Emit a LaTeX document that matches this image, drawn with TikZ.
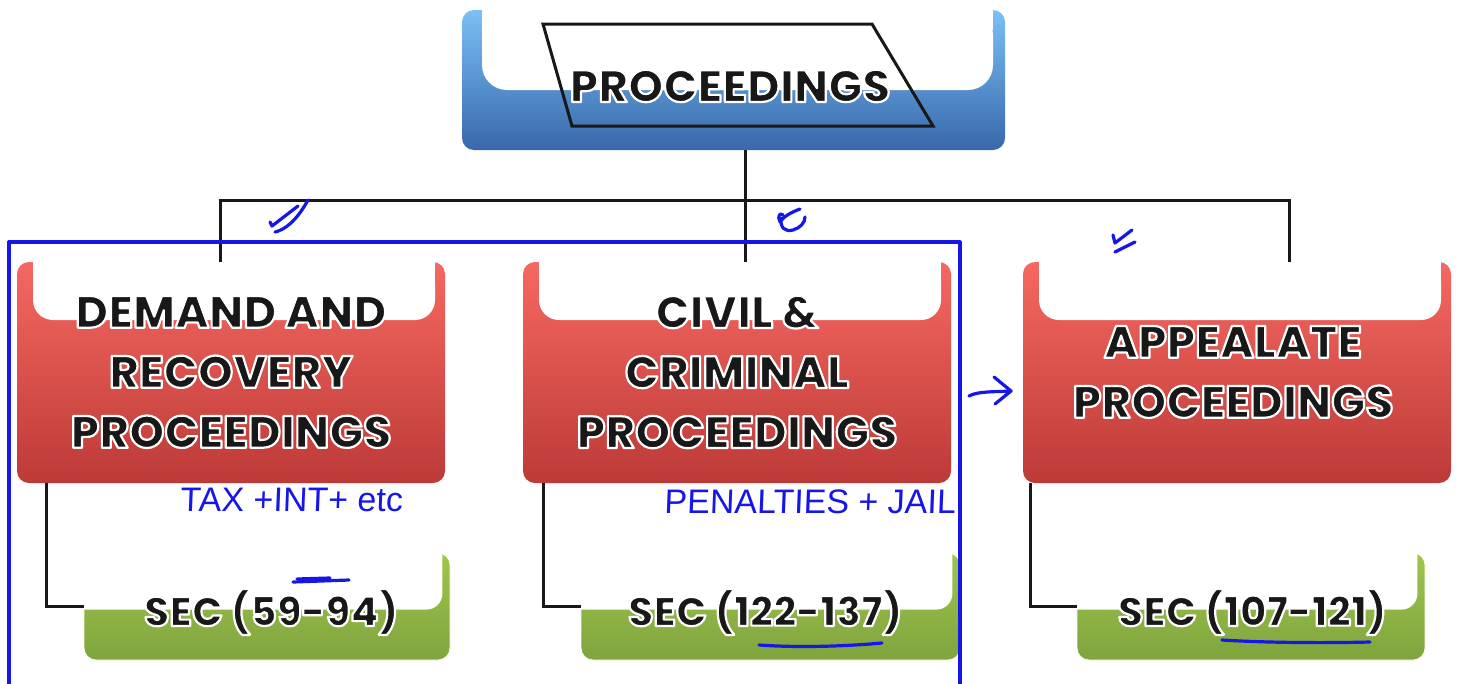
\documentclass[tikz,border=0pt]{standalone}
\usepackage{fontspec}
\setmainfont{Poppins}[BoldFont={* ExtraBold}]
\newfontfamily\hand[FakeSlant=0.04]{Liberation Sans}
\usetikzlibrary{calc}

\definecolor{bluetop}{RGB}{122,192,246}
\definecolor{bluebot}{RGB}{56,104,170}
\definecolor{redtop}{RGB}{246,104,97}
\definecolor{redbot}{RGB}{189,58,55}
\definecolor{greentop}{RGB}{158,198,76}
\definecolor{greenbot}{RGB}{128,164,62}
\definecolor{ink}{RGB}{24,24,24}
\definecolor{penblue}{RGB}{22,22,232}

% heavy lettering: filled in ink, stroked with a thin white rim
\newcommand\halo[1]{{\special{pdf:code 1 1 1 RG 2.2 w 1 j 2 Tr}#1\special{pdf:code 0 Tr}}}

\tikzset{
  conn/.style={draw=ink, line width=3pt},
  pen/.style={draw=penblue, line width=3.2pt, line cap=round, line join=round},
  headbox/.style={rectangle, rounded corners=12pt, top color=bluetop, bottom color=bluebot,
    minimum width=543pt, minimum height=140pt, inner sep=0pt},
  redbox/.style={rectangle, rounded corners=12pt, top color=redtop, bottom color=redbot,
    minimum width=428pt, minimum height=221pt, inner sep=0pt},
  greenbox/.style={rectangle, rounded corners=12pt, top color=greentop, bottom color=greenbot,
    draw=white!90!yellow, line width=0.8pt, minimum height=107pt, inner sep=0pt},
  bigtxt/.style={text=ink, align=center, inner sep=0pt,
    font=\fontsize{45}{60}\selectfont\bfseries},
  sectxt/.style={text=ink, inner sep=0pt, font=\fontsize{41}{48}\selectfont\bfseries},
  handtxt/.style={text=penblue, inner sep=0pt, font=\hand\fontsize{34}{38}\selectfont},
}

\begin{document}
\begin{tikzpicture}[x=1pt,y=-1pt]
\useasboundingbox[fill=white] (0,0) rectangle (1457,683);

% ---- top box ----
\node[headbox] (top) at (733.5,80) {};
\fill[white, rounded corners=25pt] (482,10) -- (482,90) -- (993,90) -- (993,10) [sharp corners] -- cycle;
\fill[white] (482,10) rectangle (993,30);
\draw[draw=ink, line width=3pt, line join=miter] (543,24) -- (872,24) -- (933,126) -- (572,126) -- cycle;
\node[bigtxt] (toplbl) at (730,86) {\halo{PROCEEDINGS}};

% ---- second level boxes ----
\node[redbox] (r1) at (231,372.5) {};
\node[redbox] (r2) at (737,372.5) {};
\node[redbox] (r3) at (1237,372.5) {};
\foreach \xl/\xr in {33/435, 539/941, 1039/1441}{
  \fill[white, rounded corners=20pt] (\xl,262) -- (\xl,320) -- (\xr,320) -- (\xr,262) [sharp corners] -- cycle;
  \fill[white] (\xl,262) rectangle (\xr,285);
}
\node[bigtxt] (t1) at (231,372) {\halo{DEMAND AND}\\\halo{RECOVERY}\\\halo{PROCEEDINGS}};
\node[bigtxt] (t2) at (737,372) {\halo{CIVIL \&}\\\halo{CRIMINAL}\\\halo{PROCEEDINGS}};
\node[bigtxt] (t3) at (1233,372) {\halo{APPEALATE}\\\halo{PROCEEDINGS}};

% ---- section boxes ----
\node[greenbox, minimum width=366pt] (g1) at (267,606.5) {};
\node[greenbox, minimum width=379pt] (g2) at (770.5,606.5) {};
\node[greenbox, minimum width=348pt] (g3) at (1251,606.5) {};
\foreach \g in {g1,g2,g3}{
  \begin{scope}
    \clip[rounded corners=12pt] (\g.north west) rectangle (\g.south east);
    \fill[white, rounded corners=16pt] ($(\g.north west)+(-30,-20)$) rectangle ($(\g.north east)+(-8,57)$);
  \end{scope}
}
\node[sectxt] (s1) at (271,612) {\halo{SEC (59-94)}};
\node[sectxt] (s2) at (765,612) {\halo{SEC (122-137)}};
\node[sectxt] (s3) at (1252,612) {\halo{SEC (107-121)}};

% ---- connectors ----
\coordinate (b1) at (220,200);
\coordinate (b2) at (745,200);
\coordinate (b3) at (1289,200);
\draw[conn] (top.south -| b2) -- (b2);
\draw[conn, line cap=rect] (b1) -- (b3);
\draw[conn] (b1) -- (b1 |- r1.north);
\draw[conn] (b2) -- (b2 |- r2.north);
\draw[conn] (b3) -- (b3 |- r3.north);
\draw[conn] ([xshift=30pt]r1.south west) |- (g1.west);
\draw[conn] ([xshift=21pt]r2.south west) |- (g2.west);
\draw[conn] ([xshift=8pt]r3.south west) |- (g3.west);

% ---- pen annotations ----
\draw[pen] (9,690) -- (9,242) -- (960,242) -- (960,690);
% tick marks
\draw[pen] (270,222) -- (272,226) -- (298,206);
\draw[pen] (275,232) .. controls (284,230) and (296,222) .. (308,200);
\draw[pen] (800,209) .. controls (792,212) and (784,216) .. (780,222) .. controls (777,216) and (780,212) .. (783,215);
\draw[pen] (781,218) .. controls (780,228) and (785,232) .. (793,230) .. controls (800,228) and (805,223) .. (805,217);
\draw[pen] (1113,235) -- (1115,243) -- (1132,230);
\draw[pen] (1115,252) -- (1135,242);
% arrow
\draw[pen] (969,396) .. controls (978,391) and (995,392) .. (1011,391);
\draw[pen] (994,377) -- (1011,391) -- (995,404);
% underlines and overline
\draw[pen] (293,582) -- (349,580);
\draw[pen] (297,579) -- (330,578);
\draw[pen] (759,645) .. controls (800,648) and (850,646) .. (882,643);
\draw[pen] (1222,640) .. controls (1270,643) and (1330,643) .. (1370,642);
\node[handtxt, anchor=west] (n1) at (180,500) {TAX +INT+ etc};
\node[handtxt, anchor=west] (n2) at (664,502) {PENALTIES + JAIL};
\end{tikzpicture}
\end{document}
